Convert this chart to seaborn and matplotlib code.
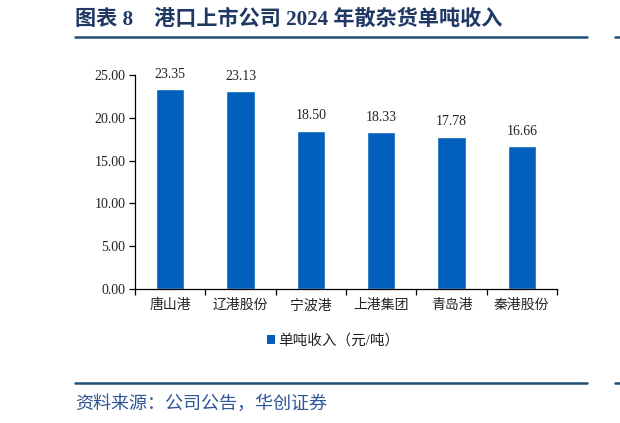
import matplotlib.pyplot as plt
import matplotlib.ticker as mticker
from matplotlib.patches import Patch
from matplotlib.lines import Line2D
import pandas as pd
import seaborn as sns

# data
ports = ['唐山港', '辽港股份', '宁波港', '上港集团', '青岛港', '秦港股份']
revenue = [23.35, 23.13, 18.50, 18.33, 17.78, 16.66]
series_name = '单吨收入（元/吨）'

df = pd.DataFrame({'port': ports, 'revenue': revenue})

sns.set_theme(style='white')
plt.rcParams['font.family'] = ['Liberation Serif', 'Noto Sans CJK SC']
plt.rcParams['axes.unicode_minus'] = False

bar_color = '#0160BC'
navy = '#1F4E79'

fig = plt.figure(figsize=(6.2, 4.23), dpi=100)
ax = fig.add_axes([135 / 620, 1 - 289 / 423, 422 / 620, 214 / 423])

sns.barplot(data=df, x='port', y='revenue', color=bar_color, width=0.4,
            saturation=1, ax=ax)
ax.bar_label(ax.containers[0], fmt='%.2f', padding=6, fontsize=10,
             color='#222222')

ax.set_ylim(0, 25)
ax.set_xlim(-0.5, len(ports) - 0.5)
ax.yaxis.set_major_locator(mticker.MultipleLocator(5))
ax.yaxis.set_major_formatter(mticker.FormatStrFormatter('%.2f'))
ax.set_xlabel('')
ax.set_ylabel('')

for side in ['top', 'right']:
    ax.spines[side].set_visible(False)
for side in ['left', 'bottom']:
    ax.spines[side].set_color('#000000')
    ax.spines[side].set_linewidth(0.9)

ax.tick_params(axis='y', direction='out', length=4, width=0.9, color='#000000',
               labelsize=10, labelcolor='#222222', pad=3, left=True)
ax.tick_params(axis='x', which='major', length=0, labelsize=10,
               labelcolor='#222222', pad=7)
ax.set_xticks([i - 0.5 for i in range(len(ports) + 1)], minor=True)
ax.tick_params(axis='x', which='minor', direction='out', length=4, width=0.9,
               color='#000000', bottom=True)

# legend under the plot
handles = [Patch(facecolor=bar_color, edgecolor='none', label=series_name)]
fig.legend(handles=handles, loc='center', bbox_to_anchor=(333 / 620, 1 - 341 / 423),
           frameon=False, fontsize=10.5, handlelength=0.6, handleheight=0.6,
           handletextpad=0.2, labelcolor='#222222')

# title and rules
fig.text(75 / 620, 1 - 20 / 423, '图表 8    港口上市公司 2024 年散杂货单吨收入',
         fontsize=15.2, fontweight='bold', color='#1F3864', va='center', ha='left')
fig.add_artist(Line2D([75 / 620, 587 / 620], [1 - 37 / 423] * 2, color=navy,
                      linewidth=1.8, transform=fig.transFigure))
fig.add_artist(Line2D([615 / 620, 1], [1 - 37 / 423] * 2, color=navy,
                      linewidth=1.8, transform=fig.transFigure))
fig.add_artist(Line2D([75 / 620, 587 / 620], [1 - 383 / 423] * 2, color=navy,
                      linewidth=1.8, transform=fig.transFigure))
fig.add_artist(Line2D([615 / 620, 1], [1 - 383 / 423] * 2, color=navy,
                      linewidth=1.8, transform=fig.transFigure))

fig.text(75 / 620, 1 - 404 / 423, '资料来源：公司公告，华创证券', fontsize=13,
         color='#2E5597', style='italic', va='center', ha='left')

fig.savefig('out.png', dpi=100)
